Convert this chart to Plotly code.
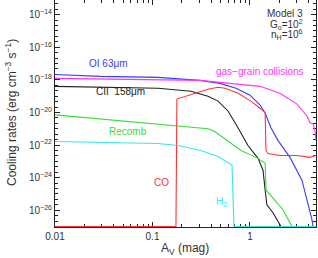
import numpy as np
import plotly.graph_objects as go

FLOOR = 1e-27

# OI 63 micron
oi_av = [0.01, 0.029, 0.114, 0.307, 0.49, 0.72, 1.0, 1.27, 1.43, 1.64, 1.94, 2.57, 3.41, 3.94, 4.32, 4.43, 4.75]
oi_rate = [2.15e-18, 1.63e-18, 1.42e-18, 9.3e-19, 6.1e-19, 3.05e-19, 1.15e-19, 2.85e-20, 9.3e-21,
           1.15e-21, 1.87e-22, 1.75e-23, 7.0e-25, 2.85e-26, 2.65e-27, FLOOR, FLOOR]

# gas-grain collisions
gg_av = [0.01, 0.114, 0.307, 0.624, 1.27, 2.03, 3.04, 3.84, 4.12, 4.43, 4.64, 4.75]
gg_rate = [1.23e-18, 1.07e-18, 9.3e-19, 6.1e-19, 4.0e-19, 1.52e-19, 3.27e-20, 6.1e-21, 2.3e-21,
           2.0e-21, 7.6e-22, 1.87e-22]

# CII 158 micron
cii_av = [0.01, 0.114, 0.248, 0.371, 0.47, 0.595, 0.753, 0.953, 1.21, 1.36, 1.43, 1.49, 1.72, 2.08, 4.75]
cii_rate = [4.0e-19, 3.05e-19, 2.0e-19, 1.0e-19, 4.98e-20, 1.23e-20, 1.15e-21, 9.3e-23, 1.52e-23,
            2.85e-24, 1.75e-25, 2.15e-26, 7.05e-27, FLOOR, FLOOR]

# CO
co_av = [0.01, 0.174, 0.178, 0.371, 0.47, 0.555, 0.753, 1.02, 1.30, 1.43, 1.46, 1.53, 2.03, 3.04, 4.12, 4.75]
co_rate = [FLOOR, FLOOR, 6.6e-20, 2.65e-19, 3.5e-19, 3.05e-19, 1.52e-19, 4.98e-20, 1.63e-20, 9.3e-21,
           4.65e-23, 3.05e-23, 2.3e-23, 2.3e-23, 1.75e-23, 2.3e-23]

# Recombination
rec_av = [0.01, 0.114, 0.248, 0.371, 0.43, 0.56, 0.809, 1.21, 1.43, 1.46, 1.72, 2.18, 2.70, 4.75]
rec_rate = [7.05e-21, 2.0e-21, 1.32e-21, 1.0e-21, 7.0e-22, 2.2e-22, 4.65e-23, 1.52e-23, 7.6e-24,
            1.75e-25, 5.7e-26, 1.07e-26, FLOOR, FLOOR]

# H2
h2_av = [0.01, 0.114, 0.183, 0.313, 0.47, 0.64, 0.654, 0.685, 4.75]
h2_rate = [1.63e-22, 1.23e-22, 9.3e-23, 4.65e-23, 2.0e-23, 6.6e-24, 6.0e-24, FLOOR, FLOOR]

series = [
    ("OI 63μm", oi_av, oi_rate, "#3a3aff"),
    ("gas−grain collisions", gg_av, gg_rate, "#ff33ff"),
    ("CII 158μm", cii_av, cii_rate, "#222222"),
    ("Recomb", rec_av, rec_rate, "#33e033"),
    ("CO", co_av, co_rate, "#ff3333"),
    ("H2", h2_av, h2_rate, "#33e8e8"),
]

y_major = [1e-26, 1e-24, 1e-22, 1e-20, 1e-18, 1e-16, 1e-14]
y_major_text = ["10<sup>−26</sup>", "10<sup>−24</sup>", "10<sup>−22</sup>", "10<sup>−20</sup>",
                "10<sup>−18</sup>", "10<sup>−16</sup>", "10<sup>−14</sup>"]
x_major = [0.01, 0.1, 1]
x_major_text = ["0.01", "0.1", "1"]

fig = go.Figure()
for name, xs, ys, col in series:
    fig.add_trace(go.Scatter(x=xs, y=ys, mode="lines", name=name,
                             line=dict(color=col, width=1.1), showlegend=False))

font_color = "#333333"
fam = "Liberation Sans, Arial, sans-serif"

y_minor = [10 ** (-27 + k / 3.0) for k in range(0, 43)]
y_minor = [v for v in y_minor if not any(abs(np.log10(v) - np.log10(m)) < 1e-6 for m in y_major)]
x_minor = [m * d for d in [0.01, 0.1, 1] for m in range(2, 10) if m * d < 5]

fig.update_xaxes(type="log", range=[-2, 0.677], tickvals=x_major, ticktext=x_major_text,
                 ticks="inside", ticklen=5, tickwidth=1, tickcolor="#222",
                 showline=True, linecolor="#222", linewidth=1, mirror="allticks",
                 showgrid=False, zeroline=False, layer="below traces", automargin=False,
                 minor=dict(tickvals=x_minor, ticks="inside", ticklen=3, tickcolor="#222", showgrid=False),
                 tickfont=dict(size=10, color=font_color, family=fam))
fig.update_yaxes(type="log", range=[-27.03, -13.1], tickvals=y_major, ticktext=y_major_text,
                 ticks="inside", ticklen=5, tickwidth=1, tickcolor="#222",
                 showline=True, linecolor="#222", linewidth=1, mirror="allticks",
                 showgrid=False, zeroline=False, layer="below traces", automargin=False,
                 minor=dict(tickvals=y_minor, ticks="inside", ticklen=3, tickcolor="#222", showgrid=False),
                 tickfont=dict(size=10, color=font_color, family=fam))

# axis titles
fig.add_annotation(xref="paper", yref="paper", x=(185 - 55) / 261.0, y=1 - 249 / 227.0,
                   text="A<sub>V</sub> (mag)", showarrow=False, xanchor="center", yanchor="middle",
                   font=dict(size=12, color=font_color, family=fam))
fig.add_annotation(xref="paper", yref="paper", x=(11 - 55) / 261.0, y=1 - 113 / 227.0,
                   text="Cooling rates (erg cm<sup>−3</sup> s<sup>−1</sup>)", showarrow=False,
                   textangle=-90, xanchor="center", yanchor="middle",
                   font=dict(size=12, color=font_color, family=fam))

labels = [
    ("OI 63μm", 0.035, 10 ** -17.02, "#3a3aff"),
    ("CII  158μm", 0.0475, 10 ** -18.73, "#222222"),
    ("gas−grain collisions", 1.27, 10 ** -17.51, "#ff33ff"),
    ("Recomb", 0.056, 10 ** -21.18, "#33e033"),
    ("CO", 0.125, 10 ** -24.31, "#ff3333"),
    ("H<sub>2</sub>", 0.505, 10 ** -25.47, "#33e8e8"),
]
for txt, x, y, col in labels:
    fig.add_annotation(x=np.log10(x), y=np.log10(y), text=txt, showarrow=False,
                       font=dict(size=10, color=col, family=fam), xanchor="center", yanchor="middle")

model_lines = [("Model 3", 13), ("G<sub>o</sub>=10<sup>2</sup>", 24), ("n<sub>H</sub>=10<sup>6</sup>", 35)]
for txt, py in model_lines:
    fig.add_annotation(xref="paper", yref="paper", x=(305 - 55) / 261.0, y=1 - py / 227.0,
                       text=txt, showarrow=False, xanchor="right", yanchor="middle",
                       font=dict(size=10, color=font_color, family=fam))

fig.update_layout(width=318, height=258, margin=dict(l=55, r=2, t=0, b=31),
                  plot_bgcolor="white", paper_bgcolor="white", hovermode=False)
fig.write_html("out.html", config={"displayModeBar": False, "staticPlot": True},
               post_script="document.body.style.margin='0';")
